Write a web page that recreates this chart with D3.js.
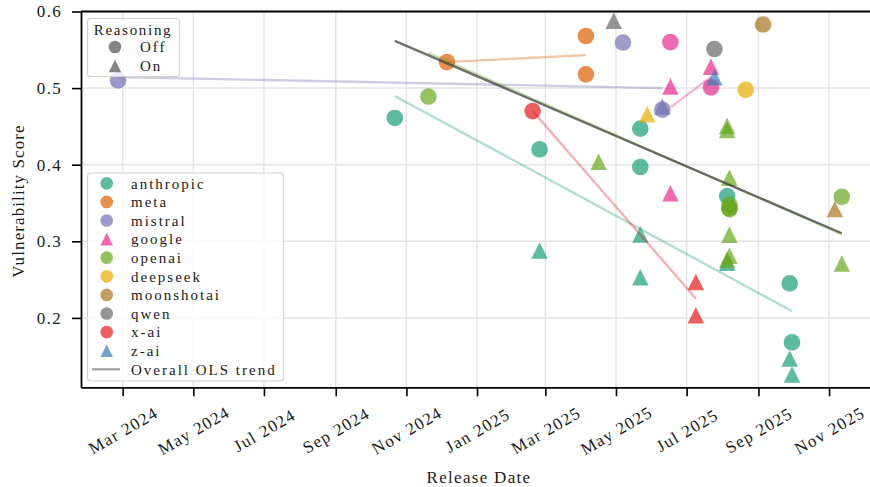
<!DOCTYPE html>
<html>
<head>
<meta charset="utf-8">
<script src="https://cdn.jsdelivr.net/npm/d3@7"></script>
<style>
  html, body { margin: 0; padding: 0; background: #fff; }
  svg { display: block; font-family: "Liberation Serif", serif; }
</style>
</head>
<body>
<svg id="chart" width="870" height="487"></svg>
<script>
// ---- data -------------------------------------------------------------
const companies = ["anthropic", "meta", "mistral", "google", "openai",
                   "deepseek", "moonshotai", "qwen", "x-ai", "z-ai"];
const companyColors = ["#1b9e77", "#d95f02", "#7570b3", "#e7298a", "#66a61e",
                       "#e6ab02", "#a6761d", "#666666", "#e41a1c", "#377eb8"];
const legendShapes = ["Off", "Off", "Off", "On", "Off", "Off", "Off", "Off", "Off", "On"];

// [release date, vulnerability score, reasoning]
const anthropic = [
  ["2024-10-22", 0.461, "Off"], ["2025-02-24", 0.420, "Off"], ["2025-05-22", 0.447, "Off"],
  ["2025-05-22", 0.397, "Off"], ["2025-08-05", 0.359, "Off"], ["2025-09-28", 0.245, "Off"],
  ["2025-09-30", 0.168, "Off"],
  ["2025-02-24", 0.288, "On"], ["2025-05-22", 0.309, "On"], ["2025-05-22", 0.253, "On"],
  ["2025-08-05", 0.272, "On"], ["2025-09-28", 0.147, "On"], ["2025-09-30", 0.126, "On"]
];
const meta = [
  ["2024-12-06", 0.534, "Off"], ["2025-04-05", 0.568, "Off"], ["2025-04-05", 0.518, "Off"]
];
const mistral = [
  ["2024-02-26", 0.510, "Off"], ["2025-05-07", 0.5595, "Off"], ["2025-06-10", 0.472, "Off"],
  ["2025-06-10", 0.476, "On"]
];
const google = [
  ["2025-06-17", 0.560, "Off"], ["2025-07-22", 0.501, "Off"],
  ["2025-06-17", 0.502, "On"], ["2025-06-17", 0.3626, "On"], ["2025-07-22", 0.528, "On"]
];
const openai = [
  ["2024-11-20", 0.489, "Off"], ["2025-08-07", 0.348, "Off"], ["2025-08-07", 0.343, "Off"],
  ["2025-08-07", 0.342, "Off"], ["2025-11-12", 0.358, "Off"],
  ["2025-04-16", 0.404, "On"], ["2025-08-05", 0.4506, "On"], ["2025-08-05", 0.4454, "On"],
  ["2025-08-07", 0.383, "On"], ["2025-08-07", 0.3085, "On"], ["2025-08-07", 0.281, "On"],
  ["2025-08-05", 0.276, "On"], ["2025-11-12", 0.271, "On"]
];
const deepseek = [["2025-08-21", 0.4977, "Off"], ["2025-05-28", 0.466, "On"]];
const moonshotai = [["2025-09-05", 0.583, "Off"], ["2025-11-06", 0.342, "On"]];
const qwen = [["2025-07-25", 0.551, "Off"], ["2025-04-29", 0.588, "On"]];
const xai = [["2025-02-18", 0.470, "Off"], ["2025-07-09", 0.247, "On"], ["2025-07-09", 0.2035, "On"]];
const zai = [["2025-07-25", 0.514, "On"]];

// fitted per-company trends: [company, start date, start score, end date, end score]
const companyTrends = [
  ["anthropic", "2024-10-22", 0.4898, "2025-09-30", 0.2088],
  ["meta",      "2024-12-06", 0.534,  "2025-04-05", 0.543],
  ["mistral",   "2024-02-26", 0.5145, "2025-06-10", 0.500],
  ["google",    "2025-06-17", 0.4749, "2025-07-22", 0.5145],
  ["openai",    "2024-11-20", 0.546,  "2025-11-12", 0.309],
  ["x-ai",      "2025-02-18", 0.470,  "2025-07-09", 0.2253]
];
const overallTrend = [["2024-10-22", 0.5617], ["2025-11-12", 0.3105]];

const xTickDates = ["2024-03-01", "2024-05-01", "2024-07-01", "2024-09-01", "2024-11-01",
                    "2025-01-01", "2025-03-01", "2025-05-01", "2025-07-01", "2025-09-01",
                    "2025-11-01"];
const yTicks = [0.2, 0.3, 0.4, 0.5, 0.6];
const xDomain = ["2024-01-25", "2025-12-15"];
const yDomain = [0.1094, 0.6];

// ---- assembly ---------------------------------------------------------
const parse = d3.utcParse("%Y-%m-%d");
const seriesByCompany = {
  "anthropic": anthropic, "meta": meta, "mistral": mistral, "google": google,
  "openai": openai, "deepseek": deepseek, "moonshotai": moonshotai, "qwen": qwen,
  "x-ai": xai, "z-ai": zai
};
const color = d3.scaleOrdinal().domain(companies).range(companyColors);

const svg = d3.select("#chart");
const plot = { left: 81, right: 880, top: 11.5, bottom: 387.3 };

const x = d3.scaleUtc().domain(xDomain.map(parse)).range([plot.left, plot.right]);
const y = d3.scaleLinear().domain(yDomain).range([plot.bottom, plot.top]);

// text styles
const tickFont = { size: 17, spacing: 1.3 };
const labelFont = { size: 17, spacing: 1.3 };
const legendFont = { size: 15, spacing: 2.0 };
const ink = "#1a1a1a";

// matplotlib-style "^": square bounding box centred on the point
const triangleUp = {
  draw(ctx, size) {
    const h = Math.sqrt(size) / 2;
    ctx.moveTo(0, -h); ctx.lineTo(h, h); ctx.lineTo(-h, h); ctx.closePath();
  }
};
const markerPath = (mode, big) => mode === "On"
  ? d3.symbol(triangleUp, big ? 272 : 158)()
  : d3.symbol(d3.symbolCircle, big ? 218 : 126)();

svg.append("defs").append("clipPath").attr("id", "plotClip")
  .append("rect").attr("x", plot.left).attr("y", plot.top)
  .attr("width", plot.right - plot.left).attr("height", plot.bottom - plot.top);

// grid
const grid = svg.append("g").attr("stroke", "#e4e4e4").attr("stroke-width", 1.5);
grid.selectAll("line.gx").data(xTickDates).join("line")
  .attr("x1", d => x(parse(d))).attr("x2", d => x(parse(d)))
  .attr("y1", plot.top).attr("y2", plot.bottom);
grid.selectAll("line.gy").data(yTicks).join("line")
  .attr("x1", plot.left).attr("x2", plot.right)
  .attr("y1", d => y(d)).attr("y2", d => y(d));

// points
const pts = svg.append("g").attr("clip-path", "url(#plotClip)");
companies.forEach(c => {
  pts.append("g").selectAll("path").data(seriesByCompany[c]).join("path")
    .attr("transform", d => `translate(${x(parse(d[0]))},${y(d[1])})`)
    .attr("d", d => markerPath(d[2], true))
    .attr("fill", color(c)).attr("fill-opacity", 0.7);
});

// trend lines
const line = d3.line().x(d => x(parse(d[0]))).y(d => y(d[1]));
const trends = svg.append("g").attr("clip-path", "url(#plotClip)").attr("fill", "none");
trends.selectAll("path").data(companyTrends).join("path")
  .attr("d", d => line([[d[1], d[2]], [d[3], d[4]]]))
  .attr("stroke", d => color(d[0])).attr("stroke-opacity", 0.35).attr("stroke-width", 2.3);
trends.append("path").attr("d", line(overallTrend))
  .attr("stroke", "#3a3a3a").attr("stroke-opacity", 0.72).attr("stroke-width", 2.4);

// axes
const xAxis = svg.append("g").attr("transform", `translate(0,${plot.bottom})`)
  .call(d3.axisBottom(x).tickValues(xTickDates.map(parse))
    .tickFormat(d3.utcFormat("%b %Y")).tickSize(9).tickSizeOuter(0));
xAxis.select(".domain").attr("stroke", "#000").attr("stroke-width", 1.8);
xAxis.selectAll(".tick line").attr("stroke", "#000").attr("stroke-width", 1.6);
xAxis.selectAll(".tick text")
  .attr("y", 0).attr("dy", "0.35em")
  .attr("transform", "translate(0,43) rotate(-30)")
  .attr("text-anchor", "middle")
  .attr("font-size", tickFont.size).attr("letter-spacing", tickFont.spacing)
  .attr("fill", ink).attr("font-family", "Liberation Serif");

const yAxis = svg.append("g").attr("transform", `translate(${plot.left},0)`)
  .call(d3.axisLeft(y).tickValues(yTicks).tickFormat(d3.format(".1f"))
    .tickSize(9).tickSizeOuter(0).tickPadding(10));
yAxis.select(".domain").attr("stroke", "#000").attr("stroke-width", 1.8);
yAxis.selectAll(".tick line").attr("stroke", "#000").attr("stroke-width", 1.6);
yAxis.selectAll(".tick text").attr("font-size", tickFont.size)
  .attr("letter-spacing", tickFont.spacing)
  .attr("fill", ink).attr("font-family", "Liberation Serif");

svg.append("line").attr("x1", plot.left).attr("x2", plot.right)
  .attr("y1", plot.top).attr("y2", plot.top)
  .attr("stroke", "#000").attr("stroke-width", 1.8);

svg.append("text").attr("x", 479).attr("y", 477).attr("dy", "0.35em")
  .attr("text-anchor", "middle").attr("font-size", labelFont.size)
  .attr("letter-spacing", labelFont.spacing).attr("fill", ink).text("Release Date");
svg.append("text").attr("transform", "translate(18,201) rotate(-90)").attr("dy", "0.35em")
  .attr("text-anchor", "middle").attr("font-size", labelFont.size)
  .attr("letter-spacing", 1.1).attr("fill", ink).text("Vulnerability Score");

// legend: reasoning mode
const legText = (g, xx, yy, s, anchor) => g.append("text")
  .attr("x", xx).attr("y", yy).attr("dy", "0.35em").attr("text-anchor", anchor || "start")
  .attr("font-size", legendFont.size).attr("letter-spacing", legendFont.spacing)
  .attr("fill", ink).text(s);

const leg1 = svg.append("g");
leg1.append("rect").attr("x", 87.5).attr("y", 18.5).attr("width", 92).attr("height", 58)
  .attr("rx", 3).attr("fill", "#fff").attr("fill-opacity", 0.8)
  .attr("stroke", "#d2d2d2").attr("stroke-width", 1.2);
leg1.append("text").attr("x", 133).attr("y", 29.5).attr("dy", "0.35em")
  .attr("text-anchor", "middle").attr("font-size", legendFont.size)
  .attr("letter-spacing", 1.7).attr("fill", ink).text("Reasoning");
["Off", "On"].forEach((m, i) => {
  const yy = 47 + i * 19;
  leg1.append("path").attr("transform", `translate(115,${yy})`)
    .attr("d", markerPath(m, false)).attr("fill", "#666").attr("fill-opacity", 0.8);
  legText(leg1, 140, yy, m);
});

// legend: companies + overall trend
const leg2 = svg.append("g");
leg2.append("rect").attr("x", 87.5).attr("y", 173).attr("width", 196).attr("height", 208)
  .attr("rx", 3).attr("fill", "#fff").attr("fill-opacity", 0.8)
  .attr("stroke", "#d2d2d2").attr("stroke-width", 1.2);
const rowY = i => 183.3 + i * 18.6;
companies.forEach((c, i) => {
  leg2.append("path").attr("transform", `translate(106.7,${rowY(i)})`)
    .attr("d", markerPath(legendShapes[i], false))
    .attr("fill", color(c)).attr("fill-opacity", 0.7);
  legText(leg2, 131, rowY(i), c);
});
const olsRow = rowY(companies.length);
leg2.append("line").attr("x1", 92).attr("x2", 120).attr("y1", olsRow).attr("y2", olsRow)
  .attr("stroke", "#3a3a3a").attr("stroke-opacity", 0.5).attr("stroke-width", 2.2);
legText(leg2, 131, olsRow, "Overall OLS trend");
</script>
</body>
</html>
